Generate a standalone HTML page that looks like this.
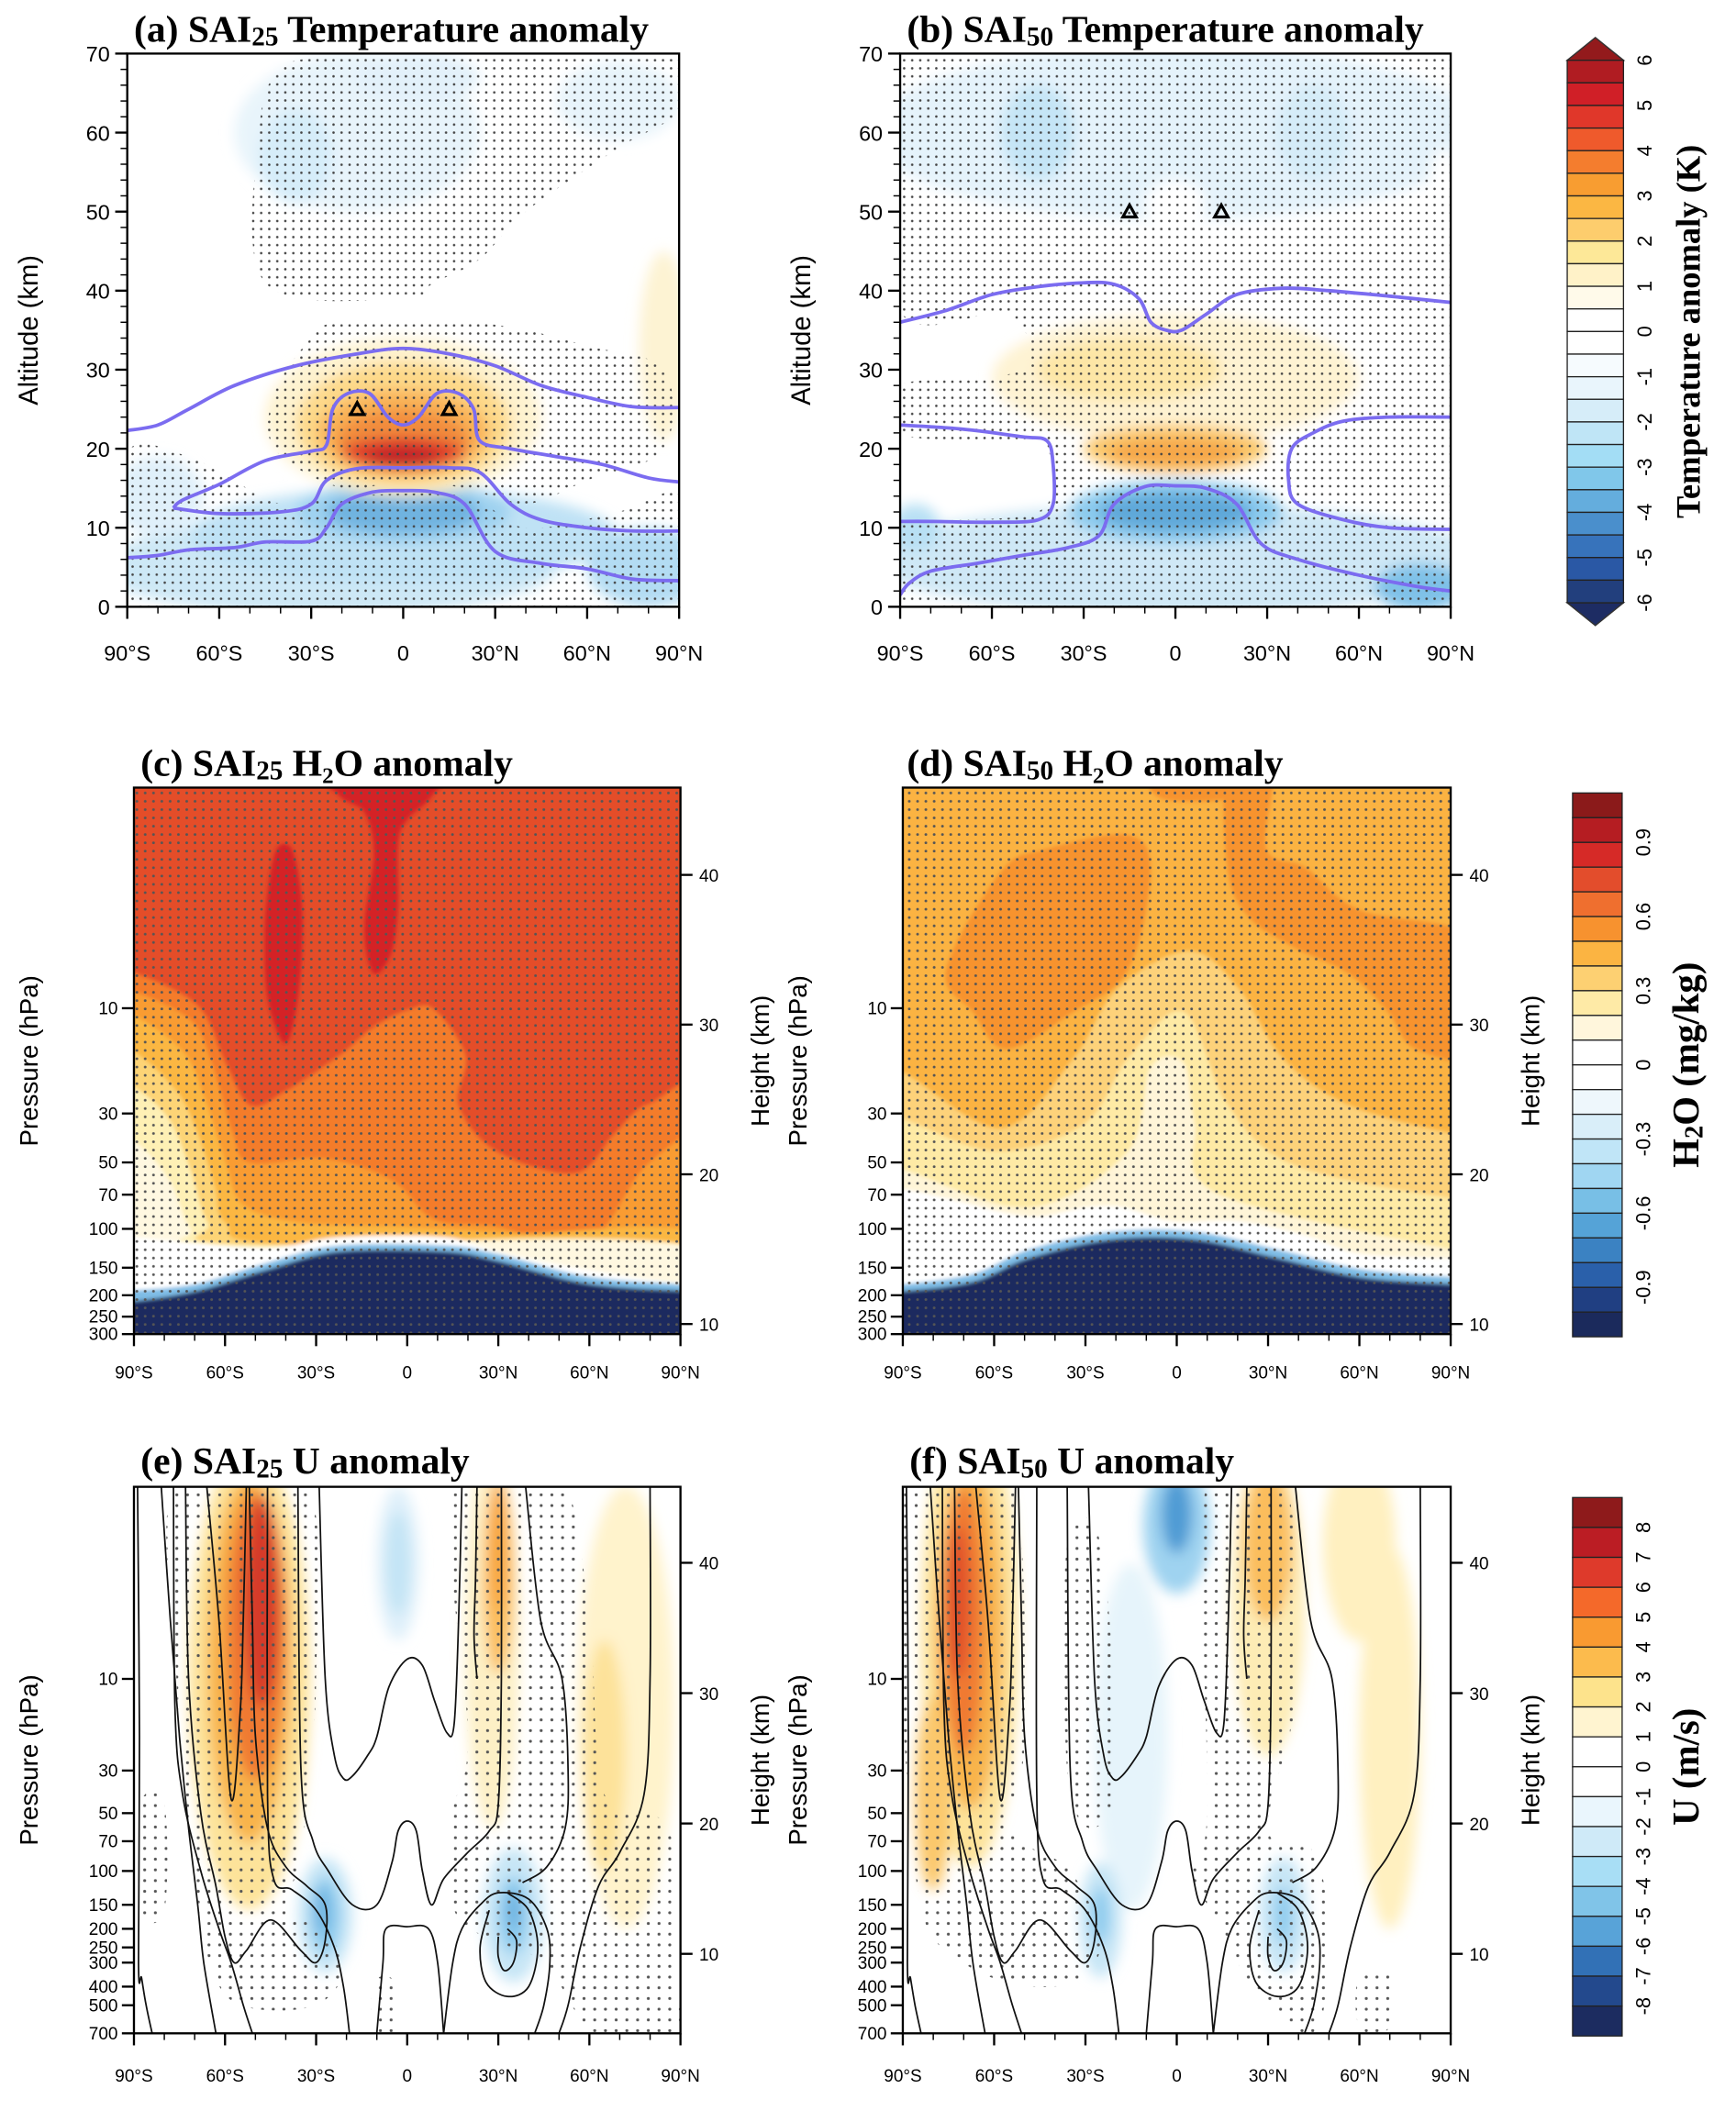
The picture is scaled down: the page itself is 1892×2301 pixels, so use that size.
<!DOCTYPE html>
<html><head><meta charset="utf-8"><title>SAI anomalies</title>
<style>
html,body{margin:0;padding:0;background:#fff;}
svg{display:block;}
text{font-family:"Liberation Sans",sans-serif;fill:#000;}
.ttl{font-family:"Liberation Serif",serif;font-weight:bold;}
</style></head>
<body>
<svg id="fig" xmlns="http://www.w3.org/2000/svg" width="1892" height="2301" viewBox="0 0 1296 1576" preserveAspectRatio="none">
<defs>
<filter id="blur" x="-30%" y="-30%" width="160%" height="160%"><feGaussianBlur stdDeviation="5"/></filter>
<filter id="blur2" x="-10%" y="-10%" width="120%" height="120%"><feGaussianBlur stdDeviation="1.5"/></filter>
<pattern id="dotsA" width="6" height="6" patternUnits="userSpaceOnUse"><circle cx="3" cy="3" r="0.9" fill="#444"/></pattern>
<pattern id="dotsC" width="6.2" height="6.2" patternUnits="userSpaceOnUse"><circle cx="3" cy="3" r="1" fill="#555"/></pattern>
<pattern id="dotsE" width="8" height="8" patternUnits="userSpaceOnUse"><circle cx="4" cy="4" r="1.1" fill="#555"/></pattern>
</defs>
</svg>
<script>
// ---------------- data arrays ----------------
const latTicks = [-90,-60,-30,0,30,60,90];
const latTickLabels = ["90°S","60°S","30°S","0","30°N","60°N","90°N"];
const altTicks = [0,10,20,30,40,50,60,70];
const presTicksCD = [10,30,50,70,100,150,200,250,300];
const presTicksEF = [10,30,50,70,100,150,200,250,300,400,500,700];
const heightTicks = [10,20,30,40];

const cbTempLevels = [6,5.5,5,4.5,4,3.5,3,2.5,2,1.5,1,0.5,0,-0.5,-1,-1.5,-2,-2.5,-3,-3.5,-4,-4.5,-5,-5.5,-6];
const cbTempLabels = [6,5,4,3,2,1,0,-1,-2,-3,-4,-5,-6];
const cbTempColors = ["#b01c22","#d01f27","#e0372a","#ef5a2c","#f47d2e","#f89d31","#fbb743","#fdcd6d","#fde898","#fff2c8","#fffaea","#ffffff","#ffffff","#f6fbfe","#e9f5fc","#d6edf9","#bfe5f6","#a3ddf5","#80c7ea","#64addd","#4a8fcc","#3773bb","#2a58a5","#223f7d"];
const cbH2OLevels = [1.1,1.0,0.9,0.8,0.7,0.6,0.5,0.4,0.3,0.2,0.1,0,-0.1,-0.2,-0.3,-0.4,-0.5,-0.6,-0.7,-0.8,-0.9,-1.0,-1.1];
const cbH2OLabels = [0.9,0.6,0.3,0,-0.3,-0.6,-0.9];
const cbH2OColors = ["#8b1a1a","#b51d22","#d62a27","#e34d2c","#ef6f2f","#f7922f","#fbb442","#fdd072","#feeaa6","#fff6dc","#ffffff","#ffffff","#eef7fc","#d9eef9","#c0e5f7","#a0d6f2","#78bfe6","#55a3d7","#3b82c2","#2a60aa","#203f82","#1b2a5c"];
const cbULevels = [9,8,7,6,5,4,3,2,1,0,-1,-2,-3,-4,-5,-6,-7,-8,-9];
const cbULabels = [8,7,6,5,4,3,2,1,0,-1,-2,-3,-4,-5,-6,-7,-8];
const cbUColors = ["#8e1a1b","#bb1d24","#de3a2b","#f4692a","#f99a31","#fcbb4d","#fde38c","#fff4d0","#ffffff","#ffffff","#eaf6fd","#cfeaf8","#a8def5","#80c4e8","#58a3d8","#3271b6","#23498d","#1c2c60"];

// blobs: [lat, alt-or-pressure, lat radius, vertical radius (km or decades), colour]
const blobsA = [
 [-15,60,40,10,"#e8f4fb"],[-35,57,12,6,"#d6edf9"],[5,67,20,3,"#e3f1fa"],[70,64,20,5,"#e8f4fb"],
 [85,33,8,12,"#fdf3d3"],
 [-25,5,75,6,"#cde8f6"],[0,9,70,6,"#bfe2f5"],[0,12,35,4,"#9fd2f0"],[0,12,25,2.8,"#6fb3e0"],[80,5,20,5,"#b3dcf3"],[-80,14,15,5,"#e0f0fa"],
 [0,24,45,10,"#fef3d0"],[0,23,35,8,"#fdd98a"],[0,22,28,5.5,"#f9b458"],[0,21,22,4,"#f28d3c"],[0,19.5,20,2,"#e0402c"],[0,19,12,1.2,"#c0232a"]
];
const blobsB = [
 [0,60,100,11,"#e5f3fb"],[-45,60,12,6,"#c5e5f6"],[45,60,12,6,"#d5ecf8"],[0,51,10,3,"#ffffff"],[88,50,6,8,"#ffffff"],
 [0,6,100,7,"#cfe8f6"],[-65,18,25,4,"#ffffff"],[65,18,25,4,"#ffffff"],[-85,10,8,3,"#b8e0f4"],
 [0,12,35,4,"#8ccbee"],[0,12,25,2.5,"#5fa8d9"],[80,2.5,15,3,"#7fc1e8"],
 [0,29,60,8,"#fef3d3"],[-15,30,30,4,"#fde6a6"],[0,20,30,3,"#fbc86c"],[0,19.5,22,1.8,"#f6a74a"]
];
const blobsE = [
 [-52,10,20,1.2,"#fde39a"],[-52,8,14,0.95,"#f8b44c"],[-50,6,10,0.75,"#f07a33"],[-48,4,6,0.55,"#d63b2a"],
 [-3,2.5,7,0.4,"#dff0fa"],[-3,2.5,4,0.27,"#c3e4f5"],
 [-27,170,9,0.3,"#c7e6f6"],[-27,170,5,0.2,"#8ccbee"],[-28,160,2.5,0.12,"#6fb3e0"],
 [35,170,10,0.35,"#c7e6f6"],[35,170,5,0.2,"#8ccbee"],[35,160,2.5,0.1,"#6fb3e0"],
 [72,14,16,1.15,"#fff3cc"],[65,25,7,0.6,"#fde29a"],
 [28,6,9,1.0,"#fdf0c6"],[30,3,5,0.5,"#fbbd5c"],[30,2,3,0.35,"#f8a540"]
];
const blobsF = [
 [-68,6,16,1.2,"#fde39a"],[-68,6,11,0.9,"#f8b44c"],[-70,5,7,0.7,"#f07a33"],[-72,4,4,0.4,"#e0502c"],[-80,40,6,0.5,"#fbc86c"],
 [-15,20,12,0.9,"#e6f4fb"],[0,1.6,11,0.35,"#9fd3f0"],[0,1.4,5,0.2,"#4f9bd4"],
 [-25,180,7,0.3,"#c7e6f6"],[-25,170,3,0.15,"#8ccbee"],
 [35,170,8,0.3,"#c7e6f6"],[35,170,3,0.15,"#8ccbee"],
 [30,4,12,0.8,"#fdecb5"],[30,2,8,0.4,"#fbbd5c"],[70,20,10,1.0,"#fff0c0"],[60,2,12,0.5,"#fff0c0"]
];

// H2O regions [lat, pressure] (colour given alongside)
const h2oCBase = "#e44d29";
const h2oCRegions = [
 ["#f47b2b",[[-100,6.9],[-90,6.9],[-69,9.7],[-59.8,17.6],[-51.6,27.5],[-40,23.7],[-22.5,16.4],[-10.9,12.1],[0.7,10.1],[8.9,10.1],[19.3,16.4],[17,27.5],[29.8,44.7],[55.4,55.7],[68.2,37],[79.8,27],[100,27],[100,600],[-100,600]]],
 ["#f99c33",[[-100,8.4],[-90,8.4],[-71.4,11.3],[-64.4,17.6],[-57.4,37],[-51.6,50],[-27.2,48],[-5.1,60],[8.9,90.6],[29.8,97.8],[58.9,118],[79.8,50],[100,44.7],[100,600],[-100,600]]],
 ["#fbb742",[[-100,10.8],[-90,10.8],[-73.7,15.8],[-66.7,25.6],[-59.8,50],[-53.9,78],[-34.2,94],[0.7,98],[35.6,105],[100,113],[100,600],[-100,600]]],
 ["#fdd476",[[-100,15.8],[-90,15.8],[-76,23.7],[-69,37],[-63.3,65],[-59.8,94],[-40,118],[100,125],[100,600],[-100,600]]],
 ["#fef0b5",[[-100,22.9],[-90,22.9],[-78.4,32],[-71.4,54],[-65.6,94],[-55,118],[100,125],[100,600],[-100,600]]],
 ["#fff8e1",[[-100,40],[-90,40],[-78.4,60],[-71.4,100],[-61,122],[100,126],[100,600],[-100,600]]],
 ["#ffffff",[[-100,109],[-90,109],[-78.4,113],[-45.8,122],[-22.5,109],[12.3,109],[29.8,127],[58.9,153],[90,177],[100,177],[100,600],[-100,600]]],
 ["#7fbde6",[[-100,190],[-90,190],[-69,177],[-45.8,142],[-22.5,119],[12.3,119],[29.8,130],[58.9,164],[90,178],[100,178],[100,600],[-100,600]]],
 ["#1b2b5e",[[-100,213],[-90,213],[-69,191],[-45.8,153],[-22.5,127],[12.3,127],[29.8,140],[58.9,177],[90,191],[100,191],[100,600],[-100,600]]],
 ["#d42327",[[-28,0.8],[12,0.8],[8,1.1],[0,1.4],[-3,1.8],[-3,3.5],[-5,5.5],[-10,7],[-13,6],[-14,4],[-11,2],[-14,1.3],[-22,1.1]]],
 ["#d42327",[[-43,1.9],[-38,1.9],[-35,3],[-34.5,5],[-36,9],[-39,13.8],[-42,13.5],[-46,9],[-47,5],[-46,3]]]
];
const h2oDBase = "#fbb342";
const h2oDRegions = [
 ["#f7932f",[[-75.8,6.7],[-57.7,2.4],[-43,1.9],[-16,1.64],[-8.6,2.4],[-16,6.7],[-34,10.4],[-56,15.3],[-67,10.4]]],
 ["#f7932f",[[16.8,0.8],[31.3,0.8],[29.5,1.9],[42.2,2.3],[60.4,3.6],[100,5],[100,16],[78.5,15.3],[69.4,10.4],[56.7,7],[38.6,5.3],[24,3.9],[16.8,2.4]]],
 ["#f7932f",[[-8,0.8],[20,0.8],[20,1.1],[-5,1.12]]],
 ["#fdd27a",[[-100,19.5],[-90,19.5],[-57.7,34.9],[-34,16.9],[-19.5,8.15],[4.1,5.5],[20.4,8.15],[35,16.9],[56.7,27.5],[90,36.7],[100,36.7],[100,600],[-100,600]]],
 ["#feeaa5",[[-100,31.8],[-90,31.8],[-59.5,44.5],[-30.4,33.4],[-16,16.9],[2.3,10.4],[16.8,27.5],[38.6,51.5],[90,72.6],[100,72.6],[100,600],[-100,600]]],
 ["#fff5d8",[[-100,54],[-90,54],[-48.6,80],[-16,44.5],[-8.6,18.6],[2.3,17.7],[5.9,33.4],[13.2,69],[90,124],[100,124],[100,600],[-100,600]]],
 ["#ffffff",[[-100,66],[-90,66],[-75.8,72.6],[-48.6,88],[-30.4,80],[-17.7,80],[-1.4,92.5],[20.4,92.5],[42.2,107],[60.4,130],[90,136],[100,136],[100,600],[-100,600]]],
 ["#7fbde6",[[-100,178],[-90,178],[-66.8,160],[-48.6,124],[-21.4,103],[5.9,103],[33.1,124],[60.4,152],[90,165],[100,165],[100,600],[-100,600]]],
 ["#1b2b5e",[[-100,192],[-90,192],[-66.8,174],[-48.6,136],[-21.4,112],[5.9,112],[33.1,136],[60.4,166],[90,178],[100,178],[100,600],[-100,600]]]
];

// stipple regions
const stipA = [
 [[-45,41],[-47,60],[-40,68],[-20,69.5],[40,69.5],[91,69.5],[91,63],[70,58],[40,50],[25,44],[10,41],[0,39]],
 [[-42,27],[-30,34],[-20,36],[20,36],[40,35],[60,33],[85,30],[85,20],[60,16],[40,13],[20,15],[0,16],[-20,15],[-42,20]],
 [[-91,19],[-70,19],[-40,13],[-20,14],[20,14],[40,10],[70,12],[91,14],[91,0.5],[-91,0.5]]
];
const stipB = [
 [[-91,69.5],[91,69.5],[91,1],[-91,1],[-91,10],[-45,12],[-42,20],[-60,21],[-91,22],[-91,28],[-50,30],[-55,37],[-91,38]]
];
const stipE = [
 [[-76,0.9],[-34,0.9],[-30,10],[-35,80],[-40,150],[-30,200],[-20,300],[-30,500],[-55,500],[-65,300],[-70,100],[-76,10]],
 [[-88,45],[-80,45],[-80,160],[-88,160]],
 [[15,0.9],[50,0.9],[60,5],[65,40],[86,60],[88,300],[88,700],[62,700],[45,300],[25,220],[15,150],[15,50],[20,20]],
 [[-11,380],[-4,380],[-4,700],[-11,700]]
];
const stipF = [
 [[-89,0.9],[-55,0.9],[-50,20],[-55,60],[-35,100],[-25,250],[-40,400],[-70,300],[-86,100]],
 [[10,0.9],[35,0.9],[40,10],[30,60],[45,80],[50,220],[45,700],[25,400],[15,200],[5,100],[10,50]],
 [[-36,2],[-25,2],[-20,30],[-28,60],[-36,30]],
 [[60,350],[70,350],[70,650],[60,650]]
];

// contour lines (lat, alt)
const contA = [
 [[-90,22.3],[-80,23],[-70,25],[-55,28],[-35,30.5],[-15,32],[0,32.7],[15,32],[30,30.5],[45,28],[60,26.5],[75,25.3],[90,25.2]],
 [[-75,12.5],[-72,13.5],[-60,15.5],[-45,18.5],[-30,19.7],[-25,20.5],[-23,25],[-18,27],[-11,27],[-5,24],[0,23],[5,24],[11,27],[18,27],[23,25],[25,21],[35,20],[50,19],[65,18],[80,16.3],[90,15.8]],
 [[-75,12.5],[-60,11.8],[-40,12],[-30,13],[-25,16],[-15,17.5],[0,17.6],[15,17.6],[25,17],[35,13],[45,11],[60,10],[75,9.6],[90,9.6]],
 [[-90,6.2],[-80,6.5],[-70,7.2],[-55,7.5],[-45,8.2],[-30,8.3],[-25,10],[-20,13],[-10,14.5],[0,14.7],[10,14.5],[20,13],[30,7],[45,5.5],[60,4.8],[75,3.5],[90,3.3]]
];
const contB = [
 [[-90,36],[-75,37.5],[-60,39.5],[-45,40.5],[-30,41],[-20,40.8],[-12,39],[-8,36],[-3,35],[2,35],[10,37],[20,39.5],[35,40.3],[50,40],[70,39.3],[90,38.5]],
 [[-90,23],[-70,22.5],[-50,21.5],[-42,21],[-40,18],[-40,13],[-45,11],[-60,10.7],[-80,10.8],[-90,10.8]],
 [[90,24],[70,24],[55,23.5],[45,22],[38,20],[37,16],[40,13],[55,11],[70,10],[90,9.8]],
 [[-90,1.5],[-87,3],[-80,4.5],[-65,5.5],[-50,6.5],[-35,7.5],[-25,9],[-20,13],[-10,15.2],[0,15.3],[10,15],[20,13],[28,8],[40,6],[60,4],[80,2.5],[90,2]]
];
// contour lines (lat, pressure) for U panels
const contU = [
 [[-88.8,1],[-88.2,20],[-88.5,300],[-87.5,360],[-86,500],[-84,700]],
 [[-81,1],[-78,5],[-75,20],[-72,60],[-69,150],[-67,300],[-63,700]],
 [[-77,1],[-76.5,14],[-74,40],[-68,100],[-62,200],[-58,300],[-54,500],[-51,700]],
 [[-73,1],[-72,10],[-68,50],[-63,120],[-60,220],[-57,300],[-53,260],[-45,180],[-35,260],[-30,300],[-27,230],[-27,150],[-33,120],[-40,95],[-46,60],[-50,20],[-51,5],[-52,1]],
 [[-66,1],[-62,5],[-58,42],[-55,15],[-54,5],[-53,1]],
 [[-46,1],[-46,40],[-44,110],[-38,125],[-30,160],[-24,250],[-21,400],[-19,700]],
 [[-29,1],[-27,10],[-24,25],[-21,33],[-18,32],[-13,25],[-10,20],[-6,11],[0,7.9],[5,8.5],[9,13],[13,19],[15.5,17],[17,4.6],[18,1]],
 [[-36,1],[-35,30],[-31,70],[-26,100],[-18,150],[-10,150],[-5,90],[-3,62],[0,55],[3,62],[5,100],[8,150],[12,110],[20,80],[27,62],[30,45],[31,10],[31,1]],
 [[-10,700],[-8,300],[-7,200],[0,195],[7,200],[10,300],[12,700]],
 [[33,200],[36,230],[35,300],[32,330],[30,280],[30,220]],
 [[33,130],[40,160],[43,250],[40,400],[33,450],[26,380],[24,250],[27,160]],
 [[12,700],[15,300],[18,200],[24,150],[30,130],[40,140],[46,200],[47,300],[45,500],[42,700]],
 [[39,1],[44,5],[51,10],[53,30],[52,60],[46,95],[38,115]],
 [[80,1],[80,10],[78,40],[70,80],[63,120],[57,250],[53,500],[50,700]],
 [[23,1],[22.5,3],[22,6],[23,10]]
];
const trianglesA = [[-15,25],[15,25]];
const trianglesB = [[-15,50],[15,50]];

// ---------------- helpers ----------------
const NS = "http://www.w3.org/2000/svg";
const svg = document.getElementById("fig");
function mk(tag, attrs, parent){
  const e = document.createElementNS(NS, tag);
  for (const k in attrs) e.setAttribute(k, attrs[k]);
  (parent||svg).appendChild(e);
  return e;
}
const PAN = {
 a:{x0:95,x1:507,y0:40,y1:453,kind:"alt",top:70},
 b:{x0:672,x1:1083,y0:40,y1:453,kind:"alt",top:70},
 c:{x0:100,x1:508,y0:588,y1:996,kind:"p",pmax:300},
 d:{x0:674,x1:1083,y0:588,y1:996,kind:"p",pmax:300},
 e:{x0:100,x1:508,y0:1110,y1:1518,kind:"p",pmax:700},
 f:{x0:674,x1:1083,y0:1110,y1:1518,kind:"p",pmax:700}
};
function X(P,lat){ return P.x0 + (lat+90)/180*(P.x1-P.x0); }
function Y(P,v){
  if (P.kind==="alt") return P.y1 - v/P.top*(P.y1-P.y0);
  return P.y0 + Math.log10(v)/Math.log10(P.pmax)*(P.y1-P.y0);
}
function RY(P,r){ return P.kind==="alt" ? r/P.top*(P.y1-P.y0) : r/Math.log10(P.pmax)*(P.y1-P.y0); }
function pAtZ(z){ return 270*Math.exp(-(z-10)/6.4); }
function smooth(pts, closed){
  const n = pts.length;
  if (n<2) return "";
  let d = "M"+pts[0][0].toFixed(1)+","+pts[0][1].toFixed(1);
  const get = i => closed ? pts[(i+n)%n] : pts[Math.max(0,Math.min(n-1,i))];
  const last = closed ? n : n-1;
  for (let i=0;i<last;i++){
    const p0=get(i-1),p1=get(i),p2=get(i+1),p3=get(i+2);
    const c1=[p1[0]+(p2[0]-p0[0])/6, p1[1]+(p2[1]-p0[1])/6];
    const c2=[p2[0]-(p3[0]-p1[0])/6, p2[1]-(p3[1]-p1[1])/6];
    d += "C"+c1[0].toFixed(1)+","+c1[1].toFixed(1)+" "+c2[0].toFixed(1)+","+c2[1].toFixed(1)+" "+p2[0].toFixed(1)+","+p2[1].toFixed(1);
  }
  return d + (closed?"Z":"");
}
function toPx(P, arr){ return arr.map(q=>[X(P,q[0]),Y(P,q[1])]); }

function clipFor(key){
  const P = PAN[key];
  const defs = svg.querySelector("defs");
  const cp = mk("clipPath",{id:"clip-"+key},defs);
  mk("rect",{x:P.x0,y:P.y0,width:P.x1-P.x0,height:P.y1-P.y0},cp);
  const g = mk("g",{"clip-path":"url(#clip-"+key+")"});
  
  
  mk("rect",{x:P.x0,y:P.y0,width:P.x1-P.x0,height:P.y1-P.y0,fill:"#fff"},g);
  return g;
}
function drawBlobs(key, g, blobs){
  const P = PAN[key];
  const bg = mk("g",{filter:"url(#blur)"},g);
  blobs.forEach((b,i)=>{
    const e = mk("ellipse",{cx:X(P,b[0]),cy:Y(P,b[1]),rx:b[2]/180*(P.x1-P.x0),ry:RY(P,b[3]),fill:b[4]},bg);
    
    
  });
}
function drawRegions(key, g, base, regions){
  const P = PAN[key];
  const r = mk("rect",{x:P.x0,y:P.y0,width:P.x1-P.x0,height:P.y1-P.y0,fill:base},g);
  
  
  const rg = mk("g",{filter:"url(#blur2)"},g);
  regions.forEach((rr,i)=>{
    const p = mk("path",{d:smooth(toPx(P,rr[1]),true),fill:rr[0]},rg);
    
    
  });
}
function drawStipple(key, g, regs, pat){
  const P = PAN[key];
  regs.forEach((rr,i)=>{
    const p = mk("path",{d:smooth(toPx(P,rr),true),fill:"url(#"+pat+")"},g);
    
    
  });
}
function drawContours(key, g, lines, color, w){
  const P = PAN[key];
  lines.forEach((ln,i)=>{
    const p = mk("path",{d:smooth(toPx(P,ln),false),fill:"none",stroke:color,"stroke-width":w},g);
    
    
  });
}
function txt(s, attrs){
  const t = mk("text", attrs);
  t.textContent = s;
  return t;
}
function drawAxes(key, opts){
  const P = PAN[key];
  const fr = mk("rect",{x:P.x0,y:P.y0,width:P.x1-P.x0,height:P.y1-P.y0,fill:"none",stroke:"#000","stroke-width":1.6});
  
  
  for (let lat=-90; lat<=90; lat+=10){
    const major = lat%30===0;
    const l = mk("line",{x1:X(P,lat),x2:X(P,lat),y1:P.y1,y2:P.y1+(major?9:5),stroke:"#000","stroke-width":major?1.6:1});
    
    
  }
  latTicks.forEach((lat,i)=>{
    const t = txt(latTickLabels[i],{x:X(P,lat),y:P.y1+opts.xlabDy,"font-size":opts.fs,"text-anchor":"middle"});
    
    
  });
  if (P.kind==="alt"){
    for (let a=0;a<=70;a+=2){
      const major = a%10===0;
      const l = mk("line",{x1:P.x0-(major?9:5),x2:P.x0,y1:Y(P,a),y2:Y(P,a),stroke:"#000","stroke-width":major?1.6:1});
      
      
    }
    altTicks.forEach(a=>{
      const t = txt(String(a),{x:P.x0-13,y:Y(P,a)+6,"font-size":16,"text-anchor":"end"});
      
      
    });
    const yt = txt("Altitude (km)",{x:0,y:0,"font-size":20,"text-anchor":"middle",transform:"translate("+(P.x0-67)+","+((P.y0+P.y1)/2)+") rotate(-90)"});
    
    
  } else {
    const pt = P.pmax===300 ? presTicksCD : presTicksEF;
    pt.forEach(p=>{
      const l = mk("line",{x1:P.x0-9,x2:P.x0,y1:Y(P,p),y2:Y(P,p),stroke:"#000","stroke-width":1.6});
      
      
      const t = txt(String(p),{x:P.x0-12,y:Y(P,p)+4.5,"font-size":13,"text-anchor":"end"});
      
      
    });
    heightTicks.forEach(z=>{
      const y = Y(P,pAtZ(z));
      const l = mk("line",{x1:P.x1,x2:P.x1+9,y1:y,y2:y,stroke:"#000","stroke-width":1.6});
      
      
      const t = txt(String(z),{x:P.x1+14,y:y+5,"font-size":13});
      
      
    });
    const yt = txt("Pressure (hPa)",{x:0,y:0,"font-size":19,"text-anchor":"middle",transform:"translate("+(P.x0-72)+","+((P.y0+P.y1)/2)+") rotate(-90)"});
    
    
    const ht = txt("Height (km)",{x:0,y:0,"font-size":19,"text-anchor":"middle",transform:"translate("+(P.x1+66)+","+((P.y0+P.y1)/2)+") rotate(-90)"});
    
    
  }
}
function drawTitle(key, x, y, pre, sub, post){
  const t = mk("text",{x:x,y:y,"font-size":28.5,class:"ttl"});
  
  
  const s1 = mk("tspan",{},t); s1.textContent = pre;
  const s2 = mk("tspan",{"font-size":20,dy:3},t); s2.textContent = sub;
  const s3 = mk("tspan",{dy:-3},t); s3.textContent = post;
}
function drawTriangles(key, tris){
  const P = PAN[key];
  tris.forEach(tr=>{
    const cx=X(P,tr[0]), cy=Y(P,tr[1]);
    const p = mk("path",{d:"M"+cx+","+(cy-5)+"L"+(cx+5)+","+(cy+4)+"L"+(cx-5)+","+(cy+4)+"Z",fill:"none",stroke:"#000","stroke-width":2.2});
    
    
  });
}
function drawColorbar(name, x0, x1, y0, y1, levels, colors, labels, title, tfs, tri){
  const n = colors.length;
  const hh = (y1-y0)/n;
  const g = mk("g",{});
  
  
  if (tri){
    const cx=(x0+x1)/2;
    const t1 = mk("path",{d:"M"+x0+","+y0+"L"+cx+","+(y0-17)+"L"+x1+","+y0+"Z",fill:tri[0],stroke:"#333","stroke-width":1},g);
    
    
    const t2 = mk("path",{d:"M"+x0+","+y1+"L"+cx+","+(y1+17)+"L"+x1+","+y1+"Z",fill:tri[1],stroke:"#333","stroke-width":1},g);
    
    
  }
  colors.forEach((c,i)=>{
    const r = mk("rect",{x:x0,y:y0+i*hh,width:x1-x0,height:hh,fill:c,stroke:"#222","stroke-width":0.9},g);
    
    
  });
  labels.forEach(v=>{
    const idx = levels.findIndex(l=>Math.abs(l-v)<1e-6);
    const y = y0 + idx*hh;
    const t = txt(String(v),{x:0,y:0,"font-size":15,"text-anchor":"middle",transform:"translate("+(x1+21)+","+y+") rotate(-90)"});
    
    
  });
  const tt = mk("text",{x:0,y:0,"font-size":tfs,"text-anchor":"middle",class:"ttl",transform:"translate("+(x1+57)+","+((y0+y1)/2)+") rotate(-90)"});
  
  
  if (Array.isArray(title)){
    const a = mk("tspan",{},tt); a.textContent = title[0];
    const b = mk("tspan",{"font-size":tfs*0.7,dy:3},tt); b.textContent = title[1];
    const c = mk("tspan",{dy:-3},tt); c.textContent = title[2];
  } else tt.textContent = title;
}

// ---------------- panels ----------------
let g;
g = clipFor("a"); drawBlobs("a",g,blobsA); drawStipple("a",g,stipA,"dotsA"); drawContours("a",g,contA,"#7b6cf0",2.6); drawTriangles("a",trianglesA);
drawAxes("a",{fs:16,xlabDy:40});
g = clipFor("b"); drawBlobs("b",g,blobsB); drawStipple("b",g,stipB,"dotsA"); drawContours("b",g,contB,"#7b6cf0",2.6); drawTriangles("b",trianglesB);
drawAxes("b",{fs:16,xlabDy:40});
g = clipFor("c"); drawRegions("c",g,h2oCBase,h2oCRegions); drawStipple("c",g,[[[-91,0.9],[91,0.9],[91,310],[-91,310]]],"dotsC");
drawAxes("c",{fs:13,xlabDy:33});
g = clipFor("d"); drawRegions("d",g,h2oDBase,h2oDRegions); drawStipple("d",g,[[[-91,0.9],[91,0.9],[91,310],[-91,310]]],"dotsC");
drawAxes("d",{fs:13,xlabDy:33});
g = clipFor("e"); drawBlobs("e",g,blobsE); drawStipple("e",g,stipE,"dotsE"); drawContours("e",g,contU,"#111",1.2);
drawAxes("e",{fs:13,xlabDy:36});
g = clipFor("f"); drawBlobs("f",g,blobsF); drawStipple("f",g,stipF,"dotsE"); drawContours("f",g,contU,"#111",1.2);
drawAxes("f",{fs:13,xlabDy:36});

drawTitle("a",100,31,"(a) SAI","25"," Temperature anomaly");
drawTitle("b",677,31,"(b) SAI","50"," Temperature anomaly");
drawTitle("c",105,579,"(c) SAI","25"," H\u2082O anomaly");
drawTitle("d",677,579,"(d) SAI","50"," H\u2082O anomaly");
drawTitle("e",105,1100,"(e) SAI","25"," U anomaly");
drawTitle("f",679,1100,"(f) SAI","50"," U anomaly");

drawColorbar("temperature-colorbar",1170,1212,45,450,cbTempLevels,cbTempColors,cbTempLabels,"Temperature anomaly (K)",25,["#931a1c","#1d2c63"]);
drawColorbar("h2o-colorbar",1174,1211,592,998,cbH2OLevels,cbH2OColors,cbH2OLabels,["H","2","O (mg/kg)"],28,null);
drawColorbar("u-wind-colorbar",1174,1211,1118,1520,cbULevels,cbUColors,cbULabels,"U (m/s)",28,null);
</script>
</body></html>
